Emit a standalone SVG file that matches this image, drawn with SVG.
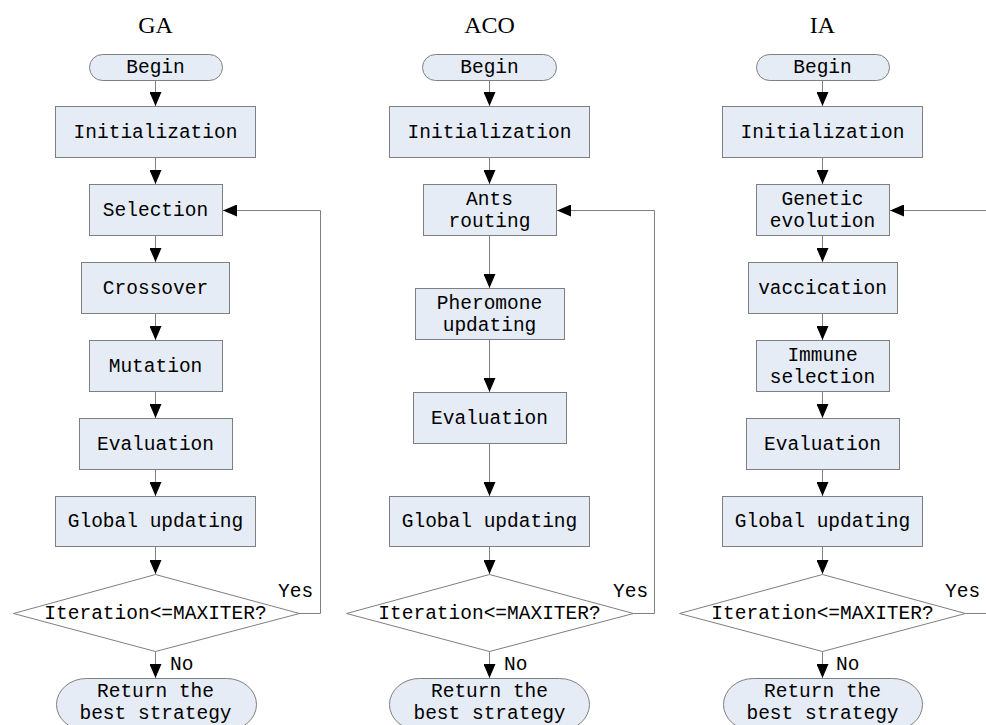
<svg xmlns="http://www.w3.org/2000/svg" width="986" height="725" viewBox="0 0 986 725">
<defs>
<style>
.box{fill:#E6ECF6;stroke:#7f7f7f;stroke-width:1}
.t{font-family:"Liberation Mono","DejaVu Sans Mono",monospace;font-size:19.5px;fill:#000;text-anchor:middle}
.lbl{font-family:"Liberation Mono","DejaVu Sans Mono",monospace;font-size:19.5px;fill:#000}
.title{font-family:"Liberation Serif","DejaVu Serif",serif;font-size:24px;fill:#000;text-anchor:middle}
.c{fill:none;stroke:#7f7f7f;stroke-width:1}
.a{marker-end:url(#ah)}
</style>
<marker id="ah" markerUnits="userSpaceOnUse" viewBox="0 -6 14 12" refX="14" refY="0" markerWidth="14" markerHeight="12" orient="auto">
<path d="M0,-6 L14,0 L0,6 z" fill="#000"/>
</marker>
</defs>

<text class="title" x="155.5" y="33">GA</text>
<text class="title" x="489.5" y="33">ACO</text>
<text class="title" x="822.5" y="33">IA</text>

<!-- GA column -->
<g id="ga-begin"><rect class="box" x="89.5" y="54.5" width="133" height="26" rx="13" ry="13"/><text class="t" x="155.5" y="73">Begin</text></g>
<g id="ga-init"><rect class="box" x="55.5" y="106.5" width="200" height="51"/><text class="t" x="155.5" y="138">Initialization</text></g>
<g id="ga-sel"><rect class="box" x="89.5" y="184.5" width="133" height="51"/><text class="t" x="155.5" y="216">Selection</text></g>
<g id="ga-cross"><rect class="box" x="81.5" y="262.5" width="148" height="51"/><text class="t" x="155.5" y="294">Crossover</text></g>
<g id="ga-mut"><rect class="box" x="89.5" y="340.5" width="133" height="51"/><text class="t" x="155.5" y="372">Mutation</text></g>
<g id="ga-eval"><rect class="box" x="79.5" y="418.5" width="153" height="51"/><text class="t" x="155.5" y="450">Evaluation</text></g>
<g id="ga-glob"><rect class="box" x="55.5" y="496.5" width="200" height="50"/><text class="t" x="155.5" y="527">Global updating</text></g>
<g id="ga-dec"><polygon class="box" fill="#fff" style="fill:#fff" points="155.5,574.5 299.5,613.5 155.5,651.5 13.5,613.5"/><text class="t" x="155.5" y="619">Iteration&lt;=MAXITER?</text></g>
<g id="ga-ret"><rect class="box" x="56.5" y="678.5" width="200" height="52" rx="30" ry="26"/><text class="t" x="155.5" y="697">Return the</text><text class="t" x="155.5" y="719">best strategy</text></g>

<!-- ACO column -->
<g id="aco-begin"><rect class="box" x="422.5" y="54.5" width="134" height="26" rx="13" ry="13"/><text class="t" x="489.5" y="73">Begin</text></g>
<g id="aco-init"><rect class="box" x="389.5" y="106.5" width="200" height="51"/><text class="t" x="489.5" y="138">Initialization</text></g>
<g id="aco-ants"><rect class="box" x="423.5" y="184.5" width="133" height="51"/><text class="t" x="489.5" y="205">Ants</text><text class="t" x="489.5" y="227">routing</text></g>
<g id="aco-pher"><rect class="box" x="415.5" y="288.5" width="149" height="51"/><text class="t" x="489.5" y="309">Pheromone</text><text class="t" x="489.5" y="331">updating</text></g>
<g id="aco-eval"><rect class="box" x="413.5" y="392.5" width="153" height="51"/><text class="t" x="489.5" y="424">Evaluation</text></g>
<g id="aco-glob"><rect class="box" x="389.5" y="496.5" width="200" height="50"/><text class="t" x="489.5" y="527">Global updating</text></g>
<g id="aco-dec"><polygon class="box" style="fill:#fff" points="489.5,574.5 633.5,613.5 489.5,651.5 346.5,613.5"/><text class="t" x="489.5" y="619">Iteration&lt;=MAXITER?</text></g>
<g id="aco-ret"><rect class="box" x="389.5" y="678.5" width="200" height="52" rx="30" ry="26"/><text class="t" x="489.5" y="697">Return the</text><text class="t" x="489.5" y="719">best strategy</text></g>

<!-- IA column -->
<g id="ia-begin"><rect class="box" x="756.5" y="54.5" width="133" height="26" rx="13" ry="13"/><text class="t" x="822.5" y="73">Begin</text></g>
<g id="ia-init"><rect class="box" x="722.5" y="106.5" width="200" height="51"/><text class="t" x="822.5" y="138">Initialization</text></g>
<g id="ia-gen"><rect class="box" x="756.5" y="184.5" width="133" height="51"/><text class="t" x="822.5" y="205">Genetic</text><text class="t" x="822.5" y="227">evolution</text></g>
<g id="ia-vac"><rect class="box" x="748.5" y="262.5" width="149" height="51"/><text class="t" x="822.5" y="294">vaccication</text></g>
<g id="ia-imm"><rect class="box" x="756.5" y="340.5" width="133" height="51"/><text class="t" x="822.5" y="361">Immune</text><text class="t" x="822.5" y="383">selection</text></g>
<g id="ia-eval"><rect class="box" x="746.5" y="418.5" width="153" height="51"/><text class="t" x="822.5" y="450">Evaluation</text></g>
<g id="ia-glob"><rect class="box" x="722.5" y="496.5" width="200" height="50"/><text class="t" x="822.5" y="527">Global updating</text></g>
<g id="ia-dec"><polygon class="box" style="fill:#fff" points="822.5,574.5 965.5,613.5 822.5,651.5 679.5,613.5"/><text class="t" x="822.5" y="619">Iteration&lt;=MAXITER?</text></g>
<g id="ia-ret"><rect class="box" x="723.5" y="678.5" width="199" height="52" rx="30" ry="26"/><text class="t" x="822.5" y="697">Return the</text><text class="t" x="822.5" y="719">best strategy</text></g>

<g id="connectors">
<!-- GA -->
<line class="c a" x1="155.5" y1="80.5" x2="155.5" y2="106"/>
<line class="c a" x1="155.5" y1="157.5" x2="155.5" y2="184"/>
<line class="c a" x1="155.5" y1="235.5" x2="155.5" y2="262"/>
<line class="c a" x1="155.5" y1="313.5" x2="155.5" y2="340"/>
<line class="c a" x1="155.5" y1="391.5" x2="155.5" y2="418"/>
<line class="c a" x1="155.5" y1="469.5" x2="155.5" y2="496"/>
<line class="c a" x1="155.5" y1="546.5" x2="155.5" y2="574"/>
<line class="c a" x1="155.5" y1="651.5" x2="155.5" y2="678"/>
<polyline class="c a" points="299.5,613.5 320.5,613.5 320.5,210.5 223,210.5"/>
<!-- ACO -->
<line class="c a" x1="489.5" y1="80.5" x2="489.5" y2="106"/>
<line class="c a" x1="489.5" y1="157.5" x2="489.5" y2="184"/>
<line class="c a" x1="489.5" y1="235.5" x2="489.5" y2="288"/>
<line class="c a" x1="489.5" y1="339.5" x2="489.5" y2="392"/>
<line class="c a" x1="489.5" y1="443.5" x2="489.5" y2="496"/>
<line class="c a" x1="489.5" y1="546.5" x2="489.5" y2="574"/>
<line class="c a" x1="489.5" y1="651.5" x2="489.5" y2="678"/>
<polyline class="c a" points="633.5,613.5 654.5,613.5 654.5,210.5 557,210.5"/>
<!-- IA -->
<line class="c a" x1="822.5" y1="80.5" x2="822.5" y2="106"/>
<line class="c a" x1="822.5" y1="157.5" x2="822.5" y2="184"/>
<line class="c a" x1="822.5" y1="235.5" x2="822.5" y2="262"/>
<line class="c a" x1="822.5" y1="313.5" x2="822.5" y2="340"/>
<line class="c a" x1="822.5" y1="391.5" x2="822.5" y2="418"/>
<line class="c a" x1="822.5" y1="469.5" x2="822.5" y2="496"/>
<line class="c a" x1="822.5" y1="546.5" x2="822.5" y2="574"/>
<line class="c a" x1="822.5" y1="651.5" x2="822.5" y2="678"/>
<line class="c" x1="965.5" y1="613.5" x2="986" y2="613.5"/>
<line class="c a" x1="986" y1="210.5" x2="890" y2="210.5"/>
<text class="lbl" x="278" y="597">Yes</text>
<text class="lbl" x="170" y="670">No</text>
<text class="lbl" x="613" y="597">Yes</text>
<text class="lbl" x="504" y="670">No</text>
<text class="lbl" x="945" y="597">Yes</text>
<text class="lbl" x="836" y="670">No</text>
</g>
</svg>
